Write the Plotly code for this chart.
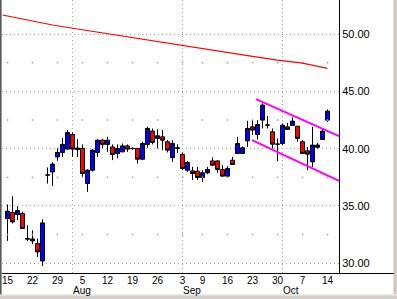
import pandas as pd
import plotly.graph_objects as go

# ---------------- data ----------------
holidays = ["2002-09-02"]
trade_days = [d for d in pd.bdate_range("2002-07-12", "2002-10-14") if d.strftime("%Y-%m-%d") not in holidays]
candle_start = "2002-07-15"

opens = [33.90, 34.43, 34.25, 34.34, 32.10, 32.12, 31.72, 30.20, 37.70, 37.97,
         39.28, 39.67, 39.96, 41.24, 39.92, 40.02, 36.96, 38.12, 39.67, 40.74,
         40.37, 40.15, 39.58, 39.72, 40.24, 40.00, 40.02, 39.08, 40.37, 41.53,
         40.89, 41.03, 40.60, 39.23, 40.02, 39.49, 38.12, 38.06, 38.03, 37.48,
         37.89, 38.93, 38.93, 38.18, 37.60, 38.99, 39.58, 39.58, 40.68, 41.90,
         41.24, 42.49, 42.05, 41.47, 40.39, 40.45, 41.90, 42.03, 41.96, 40.60,
         39.81, 38.85, 40.12, 40.80, 42.49]
highs = [35.13, 35.85, 34.98, 34.51, 33.32, 32.88, 32.16, 33.84, 38.36, 38.85,
         40.02, 40.94, 41.62, 41.41, 40.83, 40.37, 38.20, 39.95, 40.80, 40.83,
         41.03, 40.37, 40.37, 40.45, 40.37, 40.10, 40.02, 40.60, 41.90, 41.76,
         41.70, 41.62, 40.74, 40.74, 40.39, 39.67, 38.93, 38.41, 38.41, 38.12,
         38.41, 39.23, 38.99, 38.56, 38.47, 39.28, 41.03, 40.20, 42.43, 42.49,
         42.49, 43.95, 42.84, 41.76, 40.89, 42.20, 42.25, 42.73, 41.96, 40.74,
         40.15, 41.90, 40.50, 41.76, 43.42]
lows = [31.95, 33.47, 33.76, 33.03, 31.95, 31.66, 30.55, 29.76, 36.96, 36.75,
        38.93, 39.28, 39.90, 39.28, 39.28, 37.54, 36.23, 38.00, 39.28, 40.02,
        39.72, 39.00, 39.15, 39.70, 39.72, 39.90, 38.70, 39.00, 40.07, 40.37,
        40.02, 39.87, 39.67, 38.85, 39.62, 38.12, 37.97, 37.25, 37.25, 37.10,
        37.77, 38.50, 37.89, 37.60, 37.48, 38.62, 39.58, 39.58, 40.15, 41.20,
        40.80, 41.76, 41.76, 40.00, 38.91, 40.30, 41.68, 42.03, 40.60, 39.58,
        38.12, 38.41, 40.00, 40.75, 42.34]
closes = [34.54, 33.61, 34.60, 33.03, 32.16, 31.95, 30.99, 33.52, 37.70, 38.65,
          39.67, 40.37, 41.41, 39.96, 40.05, 37.83, 38.12, 39.87, 40.74, 40.37,
          40.74, 39.49, 40.02, 40.24, 39.96, 40.02, 39.08, 40.45, 41.76, 40.54,
          41.12, 40.74, 39.87, 40.45, 40.07, 38.27, 38.79, 37.83, 37.48, 37.89,
          38.18, 38.56, 38.18, 37.60, 38.27, 38.62, 40.45, 40.07, 41.76, 41.62,
          42.11, 43.80, 42.05, 40.39, 40.39, 42.05, 41.68, 42.40, 40.89, 39.58,
          39.52, 40.31, 40.31, 41.53, 43.27]

# moving average (read at weekly points)
ma_dates = ["2002-07-12", "2002-07-19", "2002-07-26", "2002-08-02", "2002-08-09",
            "2002-08-16", "2002-08-23", "2002-08-30", "2002-09-09", "2002-09-16",
            "2002-09-23", "2002-09-30", "2002-10-07", "2002-10-14"]
ma_values = [51.66, 51.22, 50.79, 50.44, 50.09, 49.74, 49.45, 49.10, 48.75, 48.40,
             48.05, 47.73, 47.47, 47.00]

# channel trendlines (trading-day offset from first candle, price)
upper_channel_day = [49.7, 66.3]
upper_channel_val = [44.32, 41.09]
lower_channel_day = [48.9, 66.3]
lower_channel_val = [40.74, 37.19]

y_ticks = [30, 35, 40, 45, 50]
y_minor = [32.5, 37.5, 42.5, 47.5]
month_names = {8: "Aug", 9: "Sep", 10: "Oct"}

# ---------------- derived positions ----------------
pos_of = {d.strftime("%Y-%m-%d"): i for i, d in enumerate(trade_days)}
c0 = pos_of[candle_start]
cdays = trade_days[c0:]
cx = [pos_of[d.strftime("%Y-%m-%d")] for d in cdays]
ma_x = [pos_of[d] for d in ma_dates]
up_x = [c0 + v for v in upper_channel_day]
lo_x = [c0 + v for v in lower_channel_day]

week_x, week_t = [], []
prev = None
for d, x in zip(cdays, cx):
    if prev is None or d.weekday() < prev.weekday():
        week_x.append(x)
        week_t.append(str(d.day))
    prev = d

month_x, month_t = [], []
prev = None
for d, x in zip(cdays, cx):
    if prev is not None and d.month != prev.month:
        month_x.append(x)
        month_t.append(month_names[d.month])
    prev = d

# ---------------- figure ----------------
W, H = 397, 299
ML, MR, MT, MB = 2, 58, 0, 26
PW, PH = W - ML - MR, H - MT - MB


def px(p):
    return (p - ML) / PW


def py(p):
    return (H - MB - p) / PH


FONT = "Liberation Sans, Arial, sans-serif"

fig = go.Figure()

fig.add_trace(go.Scatter(
    x=[x for x in week_x for _ in y_minor], y=[v for _ in week_x for v in y_minor],
    mode="markers", marker=dict(symbol="square", size=1.5, color="#a0a0a0", line=dict(width=0)),
    hoverinfo="skip", showlegend=False))

fig.add_trace(go.Candlestick(
    x=cx, open=opens, high=highs, low=lows, close=closes,
    increasing=dict(fillcolor="#0000ff", line=dict(color="#000000", width=1)),
    decreasing=dict(fillcolor="#ff0000", line=dict(color="#000000", width=1)),
    whiskerwidth=0, hoverinfo="skip", showlegend=False))

fig.add_trace(go.Scatter(x=ma_x, y=ma_values, mode="lines",
                         line=dict(color="#ff0000", width=1.2), hoverinfo="skip", showlegend=False))
fig.add_trace(go.Scatter(x=up_x, y=upper_channel_val, mode="lines",
                         line=dict(color="#ff00ff", width=2), hoverinfo="skip", showlegend=False))
fig.add_trace(go.Scatter(x=lo_x, y=lower_channel_val, mode="lines",
                         line=dict(color="#ff00ff", width=2), hoverinfo="skip", showlegend=False))

shapes = []
for mx in month_x:
    shapes.append(dict(type="line", xref="x", yref="paper", x0=mx, x1=mx, y0=0, y1=1,
                       line=dict(color="#a0a0a0", width=1, dash="1px,3px"), layer="below"))
# x-axis line extension to the right frame
shapes.append(dict(type="line", xref="paper", yref="paper", x0=1, x1=px(394), y0=py(273.5), y1=py(273.5),
                   line=dict(color="#000000", width=1)))
# window frame
shapes.append(dict(type="rect", xref="paper", yref="paper", x0=px(0), x1=px(1.6), y0=py(295), y1=py(0),
                   fillcolor="#585858", line=dict(width=0)))
shapes.append(dict(type="rect", xref="paper", yref="paper", x0=px(393.7), x1=px(394.7), y0=py(295), y1=py(0),
                   fillcolor="#a0a0a0", line=dict(width=0)))
shapes.append(dict(type="rect", xref="paper", yref="paper", x0=px(394.7), x1=px(397), y0=py(295), y1=py(0),
                   fillcolor="#d4d0c8", line=dict(width=0)))
shapes.append(dict(type="rect", xref="paper", yref="paper", x0=px(0), x1=px(397), y0=py(299), y1=py(294.5),
                   fillcolor="#d4d0c8", line=dict(width=0)))
shapes.append(dict(type="line", xref="paper", yref="paper", x0=px(0), x1=px(397), y0=py(295), y1=py(295),
                   line=dict(color="#eeeeee", width=1)))

annotations = []
for mx, mt in zip(month_x, month_t):
    annotations.append(dict(x=mx - 0.15, y=0, xref="x", yref="paper", text=mt, showarrow=False,
                            xanchor="left", yanchor="top", yshift=-11, borderpad=0,
                            font=dict(family=FONT, size=10, color="#000000")))

fig.update_layout(
    width=W, height=H, margin=dict(l=ML, r=MR, t=MT, b=MB),
    paper_bgcolor="#ffffff", plot_bgcolor="#ffffff",
    boxgap=0.2, boxgroupgap=0, showlegend=False, shapes=shapes, annotations=annotations,
    font=dict(family=FONT, size=11, color="#000000"),
    xaxis=dict(range=[c0 - 1.1, c0 + 66.3], rangeslider=dict(visible=False),
               tickmode="array", tickvals=week_x, ticktext=week_t, ticks="",
               showgrid=False, zeroline=False, showline=True, linecolor="#000000", linewidth=1,
               ticklabelstandoff=-2,
               tickfont=dict(family=FONT, size=10, color="#000000")),
    yaxis=dict(range=[29.15, 52.97], side="right", tickmode="array", tickvals=y_ticks,
               tickformat=".2f", ticks="", showgrid=True, gridcolor="#a0a0a0", gridwidth=1,
               griddash="1px,3px", zeroline=False, showline=True, linecolor="#000000", linewidth=1,
               tickfont=dict(family=FONT, size=11, color="#000000")),
)

fig.write_html("out.html")
